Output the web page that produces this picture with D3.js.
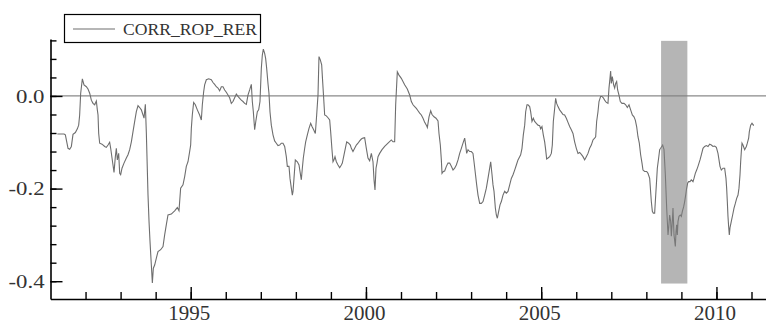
<!DOCTYPE html>
<html>
<head>
<meta charset="utf-8">
<script src="https://cdn.jsdelivr.net/npm/d3@7/dist/d3.min.js"></script>
<style>
  body { margin: 0; background: #fff; }
  #container { width: 766px; height: 331px; }
</style>
</head>
<body>
<div id="container"></div>
<script>
// monthly-ish readings of CORR_ROP_RER (decimal year, value)
var dates = [
  1991.195, 1991.385, 1991.424, 1991.500, 1991.547, 1991.595, 1991.642, 1991.709, 1991.766, 1991.804,
  1991.832, 1991.861, 1991.909, 1991.956, 1992.023, 1992.070, 1992.118, 1992.165, 1992.213, 1992.260,
  1992.308, 1992.336, 1992.356, 1992.375, 1992.403, 1992.470, 1992.546, 1992.593, 1992.641, 1992.688,
  1992.717, 1992.755, 1992.783, 1992.812, 1992.850, 1992.878, 1992.907, 1992.945, 1992.974, 1993.002,
  1993.040, 1993.097, 1993.164, 1993.211, 1993.259, 1993.307, 1993.354, 1993.402, 1993.449, 1993.497,
  1993.544, 1993.592, 1993.640, 1993.668, 1993.706, 1993.735, 1993.782, 1993.811, 1993.839, 1993.877,
  1993.906, 1993.934, 1993.972, 1994.020, 1994.067, 1994.143, 1994.210, 1994.257, 1994.305, 1994.352,
  1994.447, 1994.542, 1994.618, 1994.666, 1994.713, 1994.780, 1994.828, 1994.875, 1994.923, 1994.970,
  1994.999, 1995.018, 1995.046, 1995.084, 1995.132, 1995.189, 1995.255, 1995.303, 1995.332, 1995.370,
  1995.398, 1995.446, 1995.512, 1995.588, 1995.636, 1995.683, 1995.731, 1995.779, 1995.826, 1995.874,
  1995.921, 1995.969, 1996.016, 1996.064, 1996.111, 1996.159, 1996.206, 1996.254, 1996.302, 1996.349,
  1996.397, 1996.444, 1996.492, 1996.539, 1996.587, 1996.634, 1996.682, 1996.730, 1996.758, 1996.787,
  1996.825, 1996.863, 1996.901, 1996.939, 1996.977, 1997.015, 1997.043, 1997.072, 1997.110, 1997.138,
  1997.167, 1997.205, 1997.233, 1997.262, 1997.300, 1997.348, 1997.395, 1997.443, 1997.490, 1997.538,
  1997.585, 1997.633, 1997.681, 1997.728, 1997.757, 1997.805, 1997.833, 1997.871, 1997.900, 1997.919,
  1997.947, 1997.985, 1998.042, 1998.090, 1998.118, 1998.156, 1998.185, 1998.213, 1998.252, 1998.280,
  1998.328, 1998.375, 1998.423, 1998.461, 1998.508, 1998.556, 1998.594, 1998.632, 1998.660, 1998.698,
  1998.737, 1998.765, 1998.794, 1998.822, 1998.870, 1998.917, 1998.965, 1998.993, 1999.031, 1999.060,
  1999.088, 1999.117, 1999.155, 1999.203, 1999.250, 1999.298, 1999.326, 1999.374, 1999.412, 1999.450,
  1999.507, 1999.554, 1999.583, 1999.630, 1999.678, 1999.726, 1999.773, 1999.821, 1999.868, 1999.916,
  1999.963, 2000.011, 2000.058, 2000.106, 2000.154, 2000.201, 2000.230, 2000.258, 2000.287, 2000.315,
  2000.344, 2000.391, 2000.458, 2000.534, 2000.629, 2000.724, 2000.772, 2000.819, 2000.848, 2000.895,
  2000.943, 2001.009, 2001.104, 2001.180, 2001.248, 2001.295, 2001.343, 2001.390, 2001.438, 2001.485,
  2001.533, 2001.580, 2001.628, 2001.676, 2001.723, 2001.752, 2001.799, 2001.847, 2001.885, 2001.942,
  2001.999, 2002.056, 2002.084, 2002.122, 2002.151, 2002.170, 2002.208, 2002.246, 2002.294, 2002.341,
  2002.389, 2002.436, 2002.484, 2002.531, 2002.579, 2002.627, 2002.674, 2002.722, 2002.769, 2002.817,
  2002.845, 2002.874, 2002.912, 2002.959, 2003.007, 2003.054, 2003.083, 2003.121, 2003.159, 2003.197,
  2003.245, 2003.292, 2003.340, 2003.387, 2003.435, 2003.482, 2003.530, 2003.559, 2003.597, 2003.625,
  2003.654, 2003.692, 2003.720, 2003.749, 2003.787, 2003.825, 2003.863, 2003.910, 2003.958, 2004.005,
  2004.053, 2004.101, 2004.148, 2004.196, 2004.243, 2004.291, 2004.338, 2004.386, 2004.414, 2004.452,
  2004.490, 2004.529, 2004.557, 2004.595, 2004.623, 2004.671, 2004.699, 2004.737, 2004.775, 2004.813,
  2004.861, 2004.908, 2004.956, 2004.984, 2005.022, 2005.060, 2005.099, 2005.127, 2005.156, 2005.194,
  2005.241, 2005.289, 2005.317, 2005.346, 2005.384, 2005.412, 2005.441, 2005.479, 2005.526, 2005.574,
  2005.622, 2005.669, 2005.717, 2005.764, 2005.812, 2005.859, 2005.907, 2005.954, 2006.002, 2006.050,
  2006.097, 2006.145, 2006.192, 2006.240, 2006.287, 2006.335, 2006.382, 2006.430, 2006.477, 2006.525,
  2006.554, 2006.582, 2006.620, 2006.649, 2006.696, 2006.734, 2006.772, 2006.810, 2006.858, 2006.905,
  2006.934, 2006.962, 2006.981, 2007.000, 2007.029, 2007.067, 2007.096, 2007.124, 2007.153, 2007.181,
  2007.219, 2007.257, 2007.305, 2007.362, 2007.410, 2007.457, 2007.505, 2007.552, 2007.600, 2007.647,
  2007.685, 2007.723, 2007.761, 2007.799, 2007.837, 2007.876, 2007.904, 2007.952, 2008.009, 2008.047,
  2008.095, 2008.142, 2008.171, 2008.199, 2008.237, 2008.256, 2008.285, 2008.313, 2008.351, 2008.380,
  2008.408, 2008.465, 2008.504, 2008.542, 2008.580, 2008.599, 2008.618, 2008.637, 2008.665, 2008.694,
  2008.713, 2008.741, 2008.760, 2008.789, 2008.827, 2008.846, 2008.865, 2008.884, 2008.903, 2008.931,
  2008.969, 2008.998, 2009.027, 2009.065, 2009.093, 2009.122, 2009.150, 2009.179, 2009.207, 2009.245,
  2009.283, 2009.331, 2009.359, 2009.397, 2009.435, 2009.473, 2009.502, 2009.531, 2009.569, 2009.616,
  2009.664, 2009.711, 2009.759, 2009.806, 2009.854, 2009.901, 2009.949, 2009.997, 2010.044, 2010.073,
  2010.101, 2010.139, 2010.187, 2010.234, 2010.272, 2010.291, 2010.310, 2010.329, 2010.348, 2010.367,
  2010.386, 2010.424, 2010.462, 2010.501, 2010.539, 2010.577, 2010.615, 2010.643, 2010.672, 2010.691,
  2010.710, 2010.729, 2010.757, 2010.805, 2010.853, 2010.881, 2010.919, 2010.938, 2010.976, 2011.014,
  2011.052, 2011.071
];
var corr = [
  -0.082, -0.082, -0.084, -0.113, -0.115, -0.109, -0.083, -0.079, -0.071, -0.063,
  -0.041, 0.006, 0.037, 0.024, 0.020, 0.015, 0.006, -0.009, -0.016, -0.019,
  -0.011, -0.030, -0.041, -0.081, -0.102, -0.104, -0.109, -0.111, -0.106, -0.100,
  -0.113, -0.134, -0.149, -0.165, -0.131, -0.113, -0.138, -0.124, -0.167, -0.170,
  -0.156, -0.145, -0.134, -0.127, -0.116, -0.099, -0.077, -0.055, -0.034, -0.021,
  -0.025, -0.030, -0.041, -0.048, -0.018, -0.081, -0.214, -0.271, -0.314, -0.365,
  -0.404, -0.372, -0.365, -0.350, -0.336, -0.332, -0.325, -0.300, -0.278, -0.257,
  -0.255, -0.248, -0.241, -0.248, -0.199, -0.192, -0.174, -0.152, -0.142, -0.120,
  -0.106, -0.070, -0.041, -0.014, -0.019, -0.030, -0.041, -0.052, -0.019, 0.009,
  0.024, 0.035, 0.037, 0.035, 0.029, 0.025, 0.020, 0.017, 0.011, 0.020,
  0.020, 0.013, 0.008, 0.002, -0.004, -0.016, -0.012, -0.004, 0.004, -0.001,
  -0.005, -0.009, -0.012, -0.016, -0.018, 0.002, 0.013, 0.025, -0.012, -0.034,
  -0.073, -0.052, -0.034, -0.030, -0.012, 0.060, 0.088, 0.101, 0.092, 0.081,
  0.060, 0.027, 0.006, -0.034, -0.063, -0.084, -0.097, -0.102, -0.107, -0.106,
  -0.102, -0.102, -0.109, -0.131, -0.152, -0.152, -0.178, -0.199, -0.214, -0.206,
  -0.178, -0.138, -0.142, -0.149, -0.163, -0.181, -0.156, -0.134, -0.113, -0.099,
  -0.084, -0.070, -0.059, -0.066, -0.073, -0.081, -0.041, 0.002, 0.085, 0.078,
  0.067, 0.031, -0.005, -0.041, -0.043, -0.047, -0.052, -0.077, -0.116, -0.142,
  -0.138, -0.131, -0.142, -0.149, -0.155, -0.149, -0.145, -0.127, -0.113, -0.099,
  -0.102, -0.106, -0.113, -0.120, -0.113, -0.106, -0.102, -0.097, -0.093, -0.091,
  -0.090, -0.113, -0.134, -0.140, -0.124, -0.142, -0.181, -0.203, -0.156, -0.145,
  -0.131, -0.124, -0.116, -0.109, -0.102, -0.095, -0.099, -0.099, -0.019, 0.052,
  0.045, 0.038, 0.024, 0.015, 0.002, -0.012, -0.019, -0.023, -0.027, -0.032,
  -0.037, -0.041, -0.048, -0.057, -0.063, -0.068, -0.045, -0.032, -0.040, -0.045,
  -0.048, -0.054, -0.081, -0.106, -0.138, -0.167, -0.163, -0.162, -0.152, -0.145,
  -0.145, -0.152, -0.160, -0.156, -0.149, -0.138, -0.124, -0.113, -0.102, -0.091,
  -0.106, -0.124, -0.116, -0.120, -0.120, -0.124, -0.142, -0.167, -0.192, -0.214,
  -0.232, -0.232, -0.228, -0.214, -0.199, -0.178, -0.156, -0.142, -0.170, -0.192,
  -0.206, -0.242, -0.257, -0.264, -0.249, -0.235, -0.228, -0.214, -0.206, -0.210,
  -0.206, -0.192, -0.178, -0.170, -0.160, -0.149, -0.138, -0.131, -0.127, -0.113,
  -0.084, -0.063, -0.034, -0.019, -0.019, -0.023, -0.034, -0.055, -0.048, -0.055,
  -0.059, -0.063, -0.064, -0.071, -0.066, -0.084, -0.099, -0.116, -0.136, -0.134,
  -0.131, -0.124, -0.106, -0.055, -0.027, -0.005, -0.016, -0.023, -0.030, -0.035,
  -0.040, -0.041, -0.048, -0.057, -0.066, -0.073, -0.081, -0.099, -0.113, -0.124,
  -0.122, -0.126, -0.131, -0.138, -0.131, -0.124, -0.113, -0.106, -0.095, -0.091,
  -0.088, -0.055, -0.034, -0.012, -0.001, -0.001, -0.004, -0.009, -0.014, -0.016,
  0.017, 0.038, 0.054, 0.027, 0.042, 0.024, 0.017, 0.027, 0.031, 0.013,
  0.002, -0.012, -0.016, -0.016, -0.019, -0.025, -0.019, -0.030, -0.041, -0.045,
  -0.052, -0.066, -0.088, -0.102, -0.127, -0.145, -0.160, -0.163, -0.163, -0.167,
  -0.178, -0.228, -0.249, -0.253, -0.253, -0.228, -0.192, -0.156, -0.134, -0.116,
  -0.113, -0.106, -0.116, -0.170, -0.242, -0.271, -0.300, -0.285, -0.257, -0.271,
  -0.303, -0.271, -0.242, -0.300, -0.325, -0.293, -0.278, -0.300, -0.271, -0.260,
  -0.257, -0.260, -0.249, -0.239, -0.228, -0.214, -0.199, -0.188, -0.185, -0.185,
  -0.181, -0.185, -0.178, -0.167, -0.160, -0.152, -0.145, -0.138, -0.127, -0.113,
  -0.109, -0.107, -0.109, -0.104, -0.106, -0.109, -0.108, -0.111, -0.124, -0.138,
  -0.152, -0.160, -0.156, -0.156, -0.178, -0.199, -0.228, -0.260, -0.282, -0.300,
  -0.285, -0.271, -0.257, -0.242, -0.232, -0.221, -0.214, -0.199, -0.170, -0.142,
  -0.120, -0.102, -0.106, -0.116, -0.109, -0.102, -0.091, -0.077, -0.063, -0.059,
  -0.063, -0.063
];

var shade = [2008.42, 2009.17];
var majorYears = [1995, 2000, 2005, 2010];
var minorYears = d3.range(1992, 2012);
var majorY = [-0.4, -0.2, 0.0];
var minorY = d3.range(-0.40, 0.13, 0.04);
var seriesName = "CORR_ROP_RER";

var serif = "'Liberation Serif', 'Times New Roman', serif";

var width = 766, height = 331;
var svg = d3.select("#container").append("svg")
    .attr("width", width)
    .attr("height", height);

var x = d3.scaleLinear().domain([1991, 2011.4137]).range([50.5, 766]);
var y = d3.scaleLinear().domain([-0.4384, 0.123]).range([299, 39]);

var data = dates.map(function(d, i) { return { t: d, v: corr[i] } });

// zero line
svg.append("line")
    .attr("x1", x(1991)).attr("x2", width)
    .attr("y1", y(0)).attr("y2", y(0))
    .attr("stroke", "#8a8a8a")
    .attr("stroke-width", 1.2);

var line = d3.line()
    .x(function(d) { return x(d.t) })
    .y(function(d) { return y(d.v) });

svg.append("path")
    .datum(data)
    .attr("d", line)
    .attr("fill", "none")
    .attr("stroke", "#6e6e6e")
    .attr("stroke-width", 1.1);

// shaded period
svg.append("rect")
    .attr("x", x(shade[0]))
    .attr("width", x(shade[1]) - x(shade[0]))
    .attr("y", y(0.119))
    .attr("height", y(-0.405) - y(0.119))
    .attr("fill", "#7f7f7f")
    .attr("opacity", 0.58);

// x axis: minor then major
svg.append("g")
    .attr("transform", "translate(0," + y.range()[0] + ")")
    .call(d3.axisBottom(x).tickValues(minorYears).tickSize(-7).tickFormat("").tickSizeOuter(0))
    .call(function(g) { g.select(".domain").remove() });

var xAxis = svg.append("g")
    .attr("transform", "translate(0," + y.range()[0] + ")")
    .call(d3.axisBottom(x).tickValues(majorYears).tickSize(-12).tickSizeOuter(0)
        .tickFormat(d3.format("d")).tickPadding(7));

// y axis: minor then major
svg.append("g")
    .attr("transform", "translate(" + x(1991) + ",0)")
    .call(d3.axisLeft(y).tickValues(minorY).tickSize(-6).tickFormat("").tickSizeOuter(0))
    .call(function(g) { g.select(".domain").remove() });

var yAxis = svg.append("g")
    .attr("transform", "translate(" + x(1991) + ",0)")
    .call(d3.axisLeft(y).tickValues(majorY).tickSize(-12).tickSizeOuter(0)
        .tickFormat(function(d) { return d3.format(".1f")(d).replace("\u2212", "-") })
        .tickPadding(6));

svg.selectAll(".tick line").attr("stroke", "#000").attr("stroke-width", 1.4);
svg.selectAll(".domain").attr("stroke", "#000").attr("stroke-width", 1.6);

xAxis.selectAll("text")
    .style("font-family", serif)
    .style("font-size", "20px")
    .attr("fill", "#333")
    .attr("dx", -2)
    .attr("textLength", 42)
    .attr("lengthAdjust", "spacingAndGlyphs");

yAxis.selectAll("text")
    .style("font-family", serif)
    .style("font-size", "19px")
    .attr("fill", "#333")
    .attr("textLength", function(d) { return d < 0 ? 36 : 28.5 })
    .attr("lengthAdjust", "spacingAndGlyphs");

// legend
var legend = svg.append("g");
legend.append("rect")
    .attr("x", 64.5).attr("y", 14.5)
    .attr("width", 196).attr("height", 28)
    .attr("fill", "#fff")
    .attr("stroke", "#000")
    .attr("stroke-width", 1.2);
legend.append("line")
    .attr("x1", 73).attr("x2", 115)
    .attr("y1", 29).attr("y2", 29)
    .attr("stroke", "#6e6e6e")
    .attr("stroke-width", 1.1);
legend.append("text")
    .attr("x", 123).attr("y", 35)
    .style("font-family", serif)
    .style("font-size", "17.5px")
    .attr("fill", "#333")
    .attr("textLength", 134)
    .attr("lengthAdjust", "spacingAndGlyphs")
    .text(seriesName);
</script>
</body>
</html>
